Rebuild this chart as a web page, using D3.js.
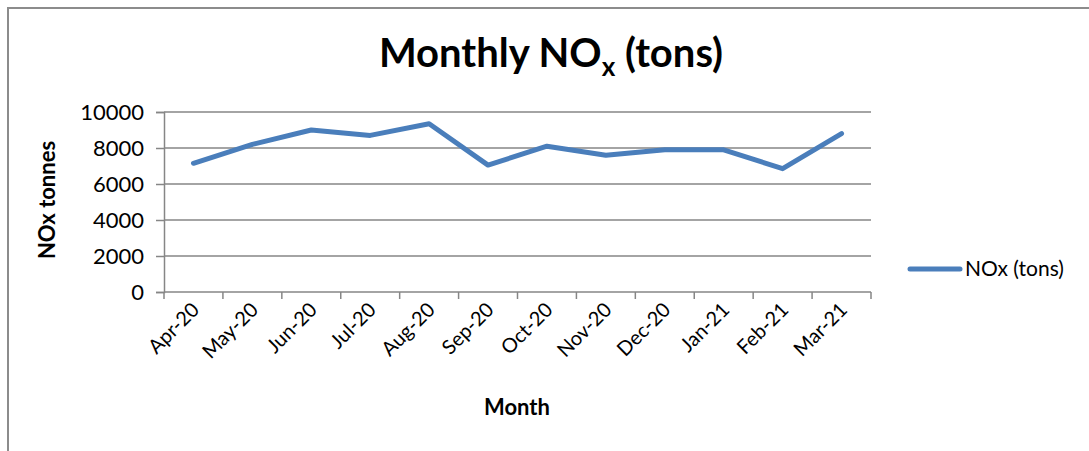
<!DOCTYPE html>
<html>
<head>
    <meta charset="utf-8">
    <script src="https://d3js.org/d3.v7.min.js"></script>
    <style>
        body { margin: 0; background: #fff; }
        text { font-family: Lato, "Open Sans", sans-serif; fill: #000; }
    </style>
</head>
<body>
    <svg id="chart" width="1089" height="451"></svg>
    <script>
        // data
        const months = ["Apr-20", "May-20", "Jun-20", "Jul-20", "Aug-20", "Sep-20",
                        "Oct-20", "Nov-20", "Dec-20", "Jan-21", "Feb-21", "Mar-21"];
        const noxTons = [7150, 8200, 9000, 8700, 9350, 7050, 8100, 7600, 7900, 7900, 6850, 8800];
        const yTicks = [0, 2000, 4000, 6000, 8000, 10000];

        const svg = d3.select("#chart");
        const plot = { left: 164, right: 871, top: 112, bottom: 292 };

        // outer chart border (only top and left are visible in the crop)
        svg.append("path")
            .attr("d", "M8,451 L8,8 L1089,8")
            .attr("fill", "none")
            .attr("stroke", "#8c8c8c")
            .attr("stroke-width", 2);

        const x = d3.scaleBand().domain(months).range([plot.left, plot.right]);
        const y = d3.scaleLinear().domain([0, 10000]).range([plot.bottom, plot.top]);

        // gridlines
        svg.append("g").selectAll("line")
            .data(yTicks.filter(d => d > 0))
            .join("line")
            .attr("x1", plot.left).attr("x2", plot.right)
            .attr("y1", d => y(d)).attr("y2", d => y(d))
            .attr("stroke", "#868686").attr("stroke-width", 1.5);

        // y axis
        const yAxis = svg.append("g")
            .attr("transform", "translate(" + plot.left + ",0)")
            .call(d3.axisLeft(y).tickValues(yTicks).tickFormat(d3.format("d")).tickSize(8).tickPadding(12));
        yAxis.selectAll("line, path").attr("stroke", "#868686").attr("stroke-width", 1.5);
        yAxis.selectAll("text").attr("font-size", 22).attr("font-family", "Lato").attr("fill", "#000");

        // x axis with ticks at category boundaries
        const xAxis = svg.append("g")
            .attr("transform", "translate(0," + plot.bottom + ")");
        xAxis.append("line")
            .attr("x1", plot.left).attr("x2", plot.right)
            .attr("stroke", "#868686").attr("stroke-width", 1.5);
        xAxis.selectAll("line.tick")
            .data(months.concat(["end"]))
            .join("line")
            .attr("class", "tick")
            .attr("x1", (d, i) => plot.left + i * x.bandwidth())
            .attr("x2", (d, i) => plot.left + i * x.bandwidth())
            .attr("y1", 0).attr("y2", 7)
            .attr("stroke", "#868686").attr("stroke-width", 1.5);
        xAxis.selectAll("text")
            .data(months)
            .join("text")
            .attr("text-anchor", "end")
            .attr("font-size", 20)
            .attr("transform", d => "translate(" + (x(d) + x.bandwidth() / 2 + 7) + ",19) rotate(-45)")
            .text(d => d);

        // the line
        const line = d3.line()
            .x((d, i) => x(months[i]) + x.bandwidth() / 2)
            .y(d => y(d));
        svg.append("path")
            .datum(noxTons)
            .attr("d", line)
            .attr("fill", "none")
            .attr("stroke", "#4a7ebb")
            .attr("stroke-width", 5)
            .attr("stroke-linejoin", "round")
            .attr("stroke-linecap", "round");

        // title with subscript x
        const title = svg.append("text")
            .attr("x", 551).attr("y", 67)
            .attr("text-anchor", "middle")
            .attr("font-size", 40)
            .attr("font-weight", "bold");
        title.append("tspan").text("Monthly NO");
        title.append("tspan").attr("font-size", 26).attr("dy", 9).text("x");
        title.append("tspan").attr("dy", -9).text(" (tons)");

        // axis titles
        svg.append("text")
            .attr("transform", "translate(55,200) rotate(-90)")
            .attr("text-anchor", "middle")
            .attr("font-size", 22)
            .attr("font-weight", "bold")
            .text("NOx tonnes");
        svg.append("text")
            .attr("x", 517).attr("y", 415)
            .attr("text-anchor", "middle")
            .attr("font-size", 22)
            .attr("font-weight", "bold")
            .text("Month");

        // legend
        const legend = svg.append("g").attr("transform", "translate(910,269)");
        legend.append("line")
            .attr("x1", 0).attr("x2", 50)
            .attr("stroke", "#4a7ebb").attr("stroke-width", 5)
            .attr("stroke-linecap", "round");
        legend.append("text")
            .attr("x", 55).attr("y", 7)
            .attr("font-size", 21)
            .text("NOx (tons)");
    </script>
</body>
</html>
